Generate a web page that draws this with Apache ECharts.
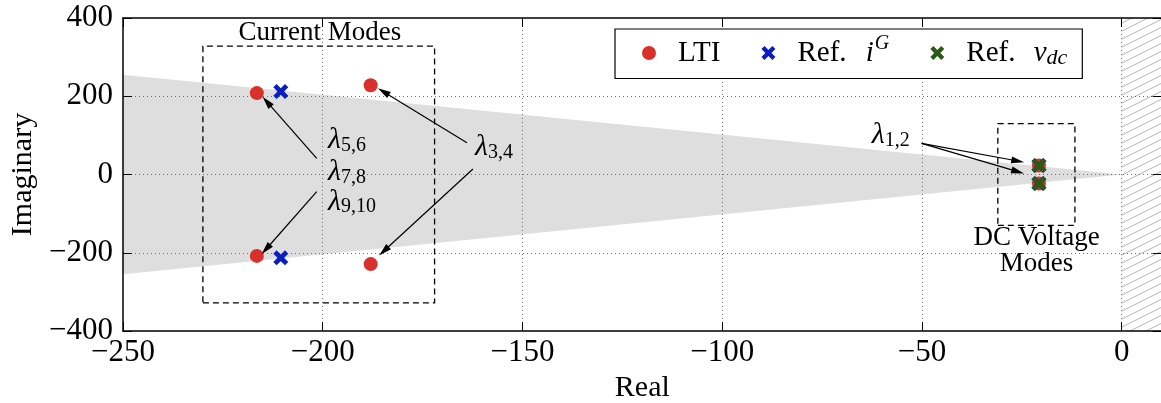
<!DOCTYPE html>
<html><head><meta charset="utf-8">
<script src="https://cdn.jsdelivr.net/npm/echarts@6/dist/echarts.min.js"></script>
<style>html,body{margin:0;padding:0;background:#fff}#c{width:1161px;height:403px}</style>
</head><body><div id="c"></div>
<script>
// ---- data ----
const xMin = -250, xMax = 10, xStep = 50;
const yMin = -400, yMax = 400, yStep = 200;
const ltiReal = [-216.5, -216.5, -188, -188, -20.7, -20.7];
const ltiImag = [208, -208, 228, -229, 23, -23];
const refIgReal = [-210.5, -210.5, -20.7, -20.7];
const refIgImag = [212, -213, 23, -23];
const refVdcReal = [-20.7, -20.7];
const refVdcImag = [23, -23];
const coneReal = [0, -250, -250];
const coneImag = [0, 255, -255];
const hatchReal = [0, 10];
const currentBox = [[-230, -328], [-172, 328]];
const dcBox = [[-31, -130], [-11.7, 130]];
const arrows = [
  [[-50.1, 79.7], [-26, 34.5]],
  [[-50.1, 79.7], [-26, 7.2]],
  [[-163.9, 81.3], [-184.8, 211.6]],
  [[-162.4, 14], [-184.7, -195.5]],
  [[-201.5, 41.4], [-214, 186]],
  [[-201.5, -44], [-214.2, -191]]
];
const texts = [
  {pos: [-57.8, 101], txt: '{l|λ}{s|1,2}', align: 'center'},
  {pos: [-161.9, 70], txt: '{l|λ}{s|3,4}', align: 'left'},
  {pos: [-198.7, 88], txt: '{l|λ}{s|5,6}', align: 'left'},
  {pos: [-198.7, 7], txt: '{l|λ}{s|7,8}', align: 'left'},
  {pos: [-198.7, -69.5], txt: '{l|λ}{s|9,10}', align: 'left'},
  {pos: [-200.7, 363], txt: '{t|Current Modes}', align: 'center'},
  {pos: [-21.3, -162], txt: '{t|DC Voltage}', align: 'center'},
  {pos: [-21.3, -229], txt: '{t|Modes}', align: 'center'}
];
const seriesNames = ['LTI', 'Ref. i^G', 'Ref. v_dc'];

// ---- styles ----
const SERIF = '"Liberation Serif", "DejaVu Serif", serif';
const RED = '#d8302a', BLUE = '#0a1ec0', GREEN = '#2b5a16';
const CROSS = 'path://M0,2.2 L2.2,0 L5,2.8 L7.8,0 L10,2.2 L7.2,5 L10,7.8 L7.8,10 L5,7.2 L2.2,10 L0,7.8 L2.8,5 Z';
const zip = (a, b) => a.map((v, i) => [v, b[i]]);
const fmt = v => v < 0 ? '\u2212' + Math.abs(v) : String(v);

const hc = document.createElement('canvas');
hc.width = 16; hc.height = 8;
const g = hc.getContext('2d');
g.strokeStyle = '#b4b4b4'; g.lineWidth = 1;
for (let k = -1; k <= 1; k++) {
  g.beginPath(); g.moveTo(0, 8 + 8 * k); g.lineTo(16, 8 * k); g.stroke();
}

const richLab = {
  t: {fontFamily: SERIF, fontSize: 27, color: '#000', textBorderWidth: 0},
  l: {fontFamily: SERIF, fontStyle: 'italic', fontSize: 30, color: '#000', verticalAlign: 'middle', textBorderWidth: 0},
  s: {fontFamily: SERIF, fontSize: 20, color: '#000', verticalAlign: 'middle', padding: [11, 0, 0, 0], textBorderWidth: 0}
};

const chart = echarts.init(document.getElementById('c'), null, {renderer: 'canvas'});
const axisCommon = {
  axisLine: {show: true, onZero: false, lineStyle: {color: '#000', width: 1.5}},
  axisTick: {show: true, inside: true, length: 9, lineStyle: {color: '#000', width: 1}},
  splitLine: {show: false}
};
const gridLine = {show: true, lineStyle: {color: '#707070', width: 1, type: [1, 3]}};
chart.setOption({
  animation: false,
  grid: {left: 123, top: 18, width: 1038.6, height: 313, outerBoundsMode: 'none', containLabel: false},
  legend: {
    left: 615, top: 29,
    padding: [5, 15, 9, 27],
    itemGap: 41, itemWidth: 14, itemHeight: 14,
    borderColor: '#000', borderWidth: 1.2, borderRadius: 0,
    backgroundColor: '#fff',
    data: seriesNames,
    formatter: n => ({
      'LTI': '{g| }{n|LTI}',
      'Ref. i^G': '{g| }{n|Ref. }{ii|i}{sup|G}',
      'Ref. v_dc': '{g| }{n|Ref. }{iv|v}{sub|dc}'
    })[n],
    textStyle: {
      rich: {
        g: {width: 17, fontSize: 10},
        n: {fontFamily: SERIF, fontSize: 29, color: '#000', verticalAlign: 'middle'},
        ii: {fontFamily: SERIF, fontStyle: 'italic', fontSize: 29, color: '#000', verticalAlign: 'middle', padding: [0, 0, 0, 12]},
        iv: {fontFamily: SERIF, fontStyle: 'italic', fontSize: 29, color: '#000', verticalAlign: 'middle', padding: [0, 0, 0, 11]},
        sup: {fontFamily: SERIF, fontStyle: 'italic', fontSize: 20, color: '#000', verticalAlign: 'middle', padding: [0, 6, 18, 1]},
        sub: {fontFamily: SERIF, fontStyle: 'italic', fontSize: 22, color: '#000', verticalAlign: 'middle', padding: [11, 2, 0, 0]}
      }
    }
  },
  xAxis: [
    Object.assign({}, axisCommon, {
      type: 'value', min: xMin, max: xMax, interval: xStep, position: 'bottom',
      name: 'Real', nameLocation: 'middle', nameGap: 16,
      nameTextStyle: {fontFamily: SERIF, fontSize: 30, color: '#000'},
      axisLabel: {show: true, showMaxLabel: false, margin: 6, formatter: fmt,
        fontFamily: SERIF, fontSize: 31, color: '#000'},
      splitLine: Object.assign({showMaxLine: false, showMinLine: false}, gridLine)
    }),
    Object.assign({}, axisCommon, {
      type: 'value', min: xMin, max: xMax, interval: xStep, position: 'top',
      axisLabel: {show: false}
    })
  ],
  yAxis: [
    Object.assign({}, axisCommon, {
      type: 'value', min: yMin, max: yMax, interval: yStep, position: 'left',
      name: 'Imaginary', nameLocation: 'middle', nameGap: 78, nameRotate: 90,
      nameTextStyle: {fontFamily: SERIF, fontSize: 30, color: '#000'},
      axisLabel: {show: true, margin: 10, formatter: fmt,
        fontFamily: SERIF, fontSize: 31, color: '#000'},
      splitLine: Object.assign({showMaxLine: false, showMinLine: false}, gridLine)
    }),
    Object.assign({}, axisCommon, {
      type: 'value', min: yMin, max: yMax, interval: yStep, position: 'right',
      axisLabel: {show: false}
    })
  ],
  series: [
    {
      type: 'custom', name: 'regions', z: -1, silent: true,
      data: [0],
      renderItem: (params, api) => {
        const pts = coneReal.map((x, i) => api.coord([x, coneImag[i]]));
        const a = api.coord([hatchReal[0], yMax]);
        const b = api.coord([hatchReal[1], yMin]);
        return {type: 'group', children: [
          {type: 'polygon', shape: {points: pts}, style: {fill: '#dedede'}},
          {type: 'rect', shape: {x: a[0], y: a[1], width: b[0] - a[0], height: b[1] - a[1]},
            style: {fill: {image: hc, repeat: 'repeat'}}}
        ]};
      }
    },
    {
      type: 'scatter', name: 'annot', silent: true, symbolSize: 0, data: [],
      markArea: {
        silent: true,
        itemStyle: {color: 'rgba(0,0,0,0)', borderColor: '#000', borderWidth: 1.3, borderType: [6, 4]},
        data: [currentBox, dcBox].map(bx => [{coord: bx[0]}, {coord: bx[1]}])
      },
      markLine: {
        silent: true, animation: false,
        symbol: ['none', 'triangle'], symbolSize: [7, 13],
        label: {show: false},
        lineStyle: {color: '#000', width: 1.2, type: 'solid'},
        emphasis: {disabled: true},
        data: arrows.map(a => [{coord: a[0]}, {coord: a[1]}])
      }
    },
    {
      type: 'scatter', name: 'LTI', symbol: 'circle', symbolSize: 14, z: 3,
      itemStyle: {color: RED, opacity: 1}, data: zip(ltiReal, ltiImag)
    },
    {
      type: 'scatter', name: 'Ref. i^G', symbol: CROSS, symbolSize: 15, z: 4,
      itemStyle: {color: BLUE, opacity: 1}, data: zip(refIgReal, refIgImag)
    },
    {
      type: 'scatter', name: 'Ref. v_dc', symbol: CROSS, symbolSize: 15, z: 5,
      itemStyle: {color: GREEN, opacity: 1}, data: zip(refVdcReal, refVdcImag)
    },
    {
      type: 'scatter', name: 'texts', silent: true, symbolSize: 0, z: 6,
      itemStyle: {color: '#000', opacity: 1},
      data: texts.map(t => ({
        value: t.pos,
        label: {show: true, position: 'inside', align: t.align, verticalAlign: 'middle',
          color: '#000', opacity: 1, textBorderWidth: 0, textBorderColor: 'transparent',
          formatter: t.txt, rich: richLab}
      }))
    }
  ]
});
</script></body></html>
